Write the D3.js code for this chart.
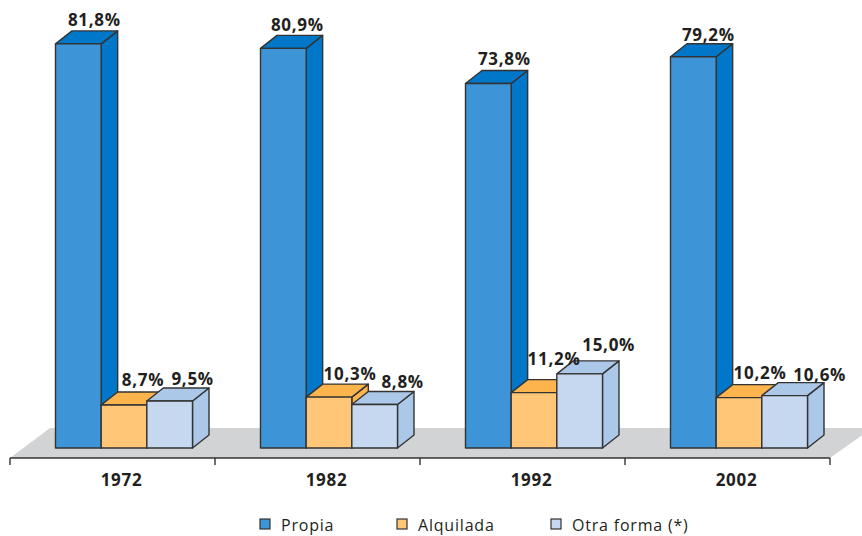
<!DOCTYPE html>
<html>
<head>
<meta charset="utf-8">
<script src="https://cdn.jsdelivr.net/npm/d3@7"></script>
<style>
  html, body { margin: 0; padding: 0; background: #fff; }
  text { font-family: "Open Sans", sans-serif; fill: #231f20; }
  .value { font-weight: 700; font-size: 17px; letter-spacing: 0.7px; }
  .year { font-weight: 700; font-size: 17px; letter-spacing: 0.7px; }
  .legend-label { font-size: 16px; letter-spacing: 0.8px; }
</style>
</head>
<body>
<div id="chart"></div>
<script>
var years = ['1972', '1982', '1992', '2002'];
var seriesNames = ['Propia', 'Alquilada', 'Otra forma (*)'];
var propia = [81.8, 80.9, 73.8, 79.2];
var alquilada = [8.7, 10.3, 11.2, 10.2];
var otraForma = [9.5, 8.8, 15.0, 10.6];

var width = 862;
var height = 536;
var DEPTH_X = 16.5;
var DEPTH_Y = 13;
var AXIS_Y = 458;
var colors = [
    { front: '#3d94d6', top: '#0077c8', side: '#0077c8' },
    { front: '#fec676', top: '#fdb44c', side: '#fdb44c' },
    { front: '#c6d8ef', top: '#abc8e8', side: '#abc8e8' }
];
// Labels were placed by hand in the original, [dx, gap above the bar]
var labelOffsets = [
    [[16, 18], [19, 19], [23, 16]],
    [[14, 17], [21, 17], [28, 17]],
    [[16, 18], [20, 28], [29, 23]],
    [[15, 16], [21, 19], [35, 15]]
];

var format = d3.formatLocale({ decimal: ',', thousands: '.', grouping: [3], currency: ['', ''] }).format('.1f');
var seriesValues = [propia, alquilada, otraForma];

var svg = d3.select('#chart').append('svg')
    .attr('width', width)
    .attr('height', height)
    .style('display', 'block');

var x0 = d3.scaleBand().domain(years).range([10, 830]);
var x1 = d3.scaleBand().domain(seriesNames).range([45.5, 182.5]);
var y = d3.scaleLinear().domain([0, 85]).range([448, 448 - 85 * 4.94]);

// Floor
var floor = d3.path();
floor.moveTo(10, AXIS_Y);
floor.lineTo(50, 428);
floor.lineTo(872, 428);
floor.lineTo(830, AXIS_Y);
floor.closePath();
svg.append('path').attr('d', floor.toString()).attr('fill', '#d1d3d4');

// Axis
var axis = svg.append('g').attr('class', 'x-axis');
axis.append('line')
    .attr('x1', 10).attr('x2', 830)
    .attr('y1', AXIS_Y).attr('y2', AXIS_Y)
    .attr('stroke', '#333').attr('stroke-width', 1.4);
axis.selectAll('.tick')
    .data(years.map((d) => x0(d)).concat([x0.range()[1]]))
    .enter().append('line')
    .attr('class', 'tick')
    .attr('x1', (d) => d).attr('x2', (d) => d)
    .attr('y1', AXIS_Y).attr('y2', AXIS_Y + 7)
    .attr('stroke', '#333').attr('stroke-width', 1.4);
axis.selectAll('.year')
    .data(years)
    .enter().append('text')
    .attr('class', 'year')
    .attr('x', (d) => x0(d) + x0.bandwidth() / 2 + 9)
    .attr('y', 486)
    .attr('text-anchor', 'middle')
    .text((d) => d);

// Bars, with their fake 3D faces
function face(points) {
    return d3.line()(points) + 'Z';
}

var groups = svg.selectAll('.group')
    .data(years)
    .enter().append('g')
    .attr('class', 'group')
    .attr('transform', (d) => `translate(${x0(d)},0)`);

groups.each(function(year, yi) {
    var g = d3.select(this);
    seriesNames.forEach(function(name, si) {
        var left = x1(name);
        var right = left + x1.bandwidth();
        var top = y(seriesValues[si][yi]);
        var base = y(0);
        var bar = g.append('g')
            .attr('stroke', '#333')
            .attr('stroke-width', 1.4)
            .attr('stroke-linejoin', 'round');
        bar.append('path')
            .attr('fill', colors[si].side)
            .attr('d', face([[right, top], [right + DEPTH_X, top - DEPTH_Y], [right + DEPTH_X, base - DEPTH_Y], [right, base]]));
        bar.append('path')
            .attr('fill', colors[si].top)
            .attr('d', face([[left, top], [left + DEPTH_X, top - DEPTH_Y], [right + DEPTH_X, top - DEPTH_Y], [right, top]]));
        bar.append('rect')
            .attr('fill', colors[si].front)
            .attr('x', left).attr('y', top)
            .attr('width', x1.bandwidth()).attr('height', base - top);
    });
});

// Value labels go on top of everything
groups.each(function(year, yi) {
    var g = d3.select(this);
    seriesNames.forEach(function(name, si) {
        var offset = labelOffsets[yi][si];
        g.append('text')
            .attr('class', 'value')
            .attr('x', x1(name) + x1.bandwidth() / 2 + offset[0])
            .attr('y', y(seriesValues[si][yi]) - offset[1])
            .attr('text-anchor', 'middle')
            .text(format(seriesValues[si][yi]) + '%');
    });
});

// Legend
var legendX = [260, 397, 551];
var legend = svg.selectAll('.legend')
    .data(seriesNames)
    .enter().append('g')
    .attr('class', 'legend')
    .attr('transform', (d, i) => `translate(${legendX[i]},519)`);
legend.append('rect')
    .attr('width', 10).attr('height', 10)
    .attr('fill', (d, i) => colors[i].front)
    .attr('stroke', '#333').attr('stroke-width', 1.2);
legend.append('text')
    .attr('class', 'legend-label')
    .attr('x', 21).attr('y', 12)
    .text((d) => d);
</script>
</body>
</html>
